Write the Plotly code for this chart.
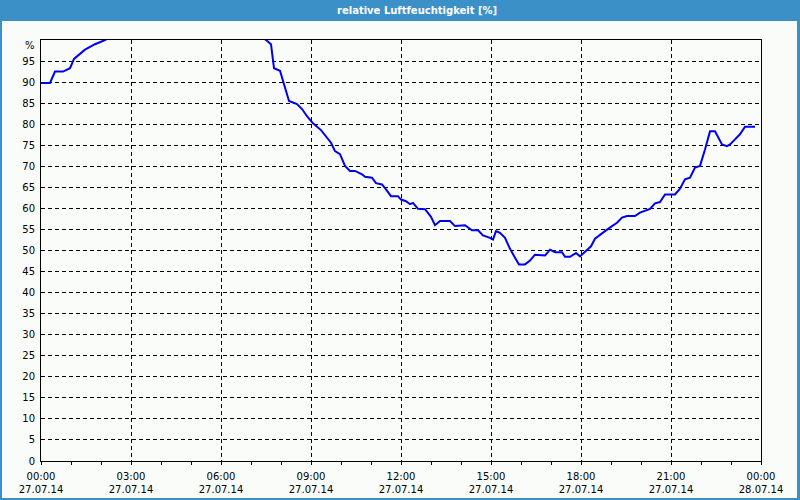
import plotly.graph_objects as go

title_text = "relative Luftfeuchtigkeit [%]"
day = "2014-07-27"

times = ["00:00", "00:18", "00:28", "00:44", "00:58", "01:06", "01:28", "01:48", "02:08",
         "02:30", "07:10",
         "07:30", "07:40", "07:44", "07:46", "07:58", "08:16", "08:32", "08:42", "08:52",
         "09:04", "09:20", "09:40", "09:48", "09:58", "10:08", "10:18", "10:28", "10:42",
         "10:48", "11:02", "11:10", "11:22", "11:30", "11:40", "11:54", "12:00", "12:10",
         "12:18", "12:24", "12:34", "12:48", "13:00", "13:08", "13:18", "13:38", "13:48",
         "14:08", "14:22", "14:34", "14:44", "14:58", "15:04", "15:10", "15:18", "15:28",
         "15:38", "15:48", "15:56", "16:08", "16:18", "16:28", "16:48", "16:58", "17:08",
         "17:22", "17:28", "17:38", "17:50", "17:58", "18:14", "18:20", "18:28", "18:38",
         "18:48", "19:02", "19:12", "19:22", "19:32", "19:48", "19:58", "20:18", "20:28",
         "20:38", "20:48", "21:08", "21:18", "21:28", "21:38", "21:48", "21:58", "22:08",
         "22:18", "22:28", "22:42", "22:52", "22:58", "23:08", "23:18", "23:28", "23:48"]

humidity = [89.8, 89.8, 92.5, 92.5, 93.3, 95.5, 97.7, 99.0, 100.0,
            101.5, 101.5,
            100.0, 99.0, 95.5, 93.3, 92.7, 85.5, 84.8, 83.6, 81.9,
            80.2, 78.6, 75.6, 73.6, 72.9, 70.1, 68.9, 68.9, 68.1,
            67.5, 67.3, 66.0, 65.7, 64.5, 62.9, 62.9, 62.1, 61.7,
            61.0, 61.3, 59.9, 59.8, 58.0, 56.0, 57.0, 57.0, 55.8,
            56.0, 54.8, 54.8, 53.6, 53.0, 52.6, 54.6, 54.2, 53.0,
            50.4, 48.3, 46.7, 46.7, 47.6, 49.0, 48.8, 50.2, 49.6,
            49.6, 48.5, 48.5, 49.4, 48.6, 50.2, 51.0, 52.8, 53.8,
            54.6, 55.8, 56.6, 57.8, 58.2, 58.2, 59.0, 59.9, 61.2,
            61.5, 63.3, 63.3, 64.7, 66.9, 67.3, 69.7, 70.1, 74.0,
            78.3, 78.3, 75.2, 74.8, 75.2, 76.4, 77.6, 79.4, 79.4]

y_ticks = list(range(0, 100, 5))
y_unit = "%"

x = [f"{day} {t}" for t in times]

BLUE = "#3C90C8"
BG = "#FAFCFA"
FONT = "DejaVu Sans"

fig = go.Figure()
fig.add_trace(go.Scatter(x=x, y=humidity, mode="lines",
                         line=dict(color="#0000F0", width=2),
                         hoverinfo="skip", showlegend=False))

W, H = 800, 500
L, R, T, B = 41, 39, 40, 39
pw, ph = W - L - R, H - T - B

def px_x(p):
    return (p - L) / pw

def px_y(p):
    return (H - B - p) / ph

fig.add_shape(type="rect", xref="paper", yref="paper",
              x0=px_x(2), x1=px_x(797), y0=px_y(498), y1=px_y(21),
              fillcolor=BG, line=dict(width=0), layer="below")

fig.add_annotation(text=f"<b>{title_text}</b>", xref="paper", yref="paper",
                   x=px_x(416.5), y=px_y(10.5), xanchor="center", yanchor="middle",
                   showarrow=False, font=dict(family=FONT, size=10, color="white"))

fig.add_annotation(text=y_unit, xref="paper", yref="paper",
                   x=px_x(36.5), y=px_y(45.5), xanchor="right", yanchor="middle",
                   showarrow=False, font=dict(family=FONT, size=10, color="black"))

fig.update_layout(
    width=W, height=H, autosize=False,
    margin=dict(l=L, r=R, t=T, b=B, pad=0),
    paper_bgcolor=BLUE, plot_bgcolor=BG,
    font=dict(family=FONT, size=10, color="black"),
    xaxis=dict(type="date",
               range=[f"{day} 00:00", "2014-07-28 00:00"],
               tickmode="linear", tick0=f"{day} 00:00", dtick=3 * 3600000,
               tickformat="%H:%M<br>%d.%m.%y",
               showgrid=True, gridcolor="black", gridwidth=1, griddash="4px,3px",
               showline=True, linecolor="black", linewidth=1, mirror=True,
               ticks="outside", ticklen=3, tickcolor="black", tickwidth=1,
               minor=dict(dtick=3600000, ticks="outside", ticklen=3,
                          tickcolor="black", showgrid=False),
               zeroline=False, fixedrange=True, automargin=False,
               ticklabelstandoff=3,
               tickfont=dict(family=FONT, size=10, color="black")),
    yaxis=dict(range=[0, 100], tickmode="array", tickvals=y_ticks,
               ticktext=[str(v) for v in y_ticks],
               showgrid=True, gridcolor="black", gridwidth=1, griddash="4px,3px",
               showline=True, linecolor="black", linewidth=1, mirror=True,
               ticks="", zeroline=False, fixedrange=True, automargin=False,
               ticklabelstandoff=3,
               tickfont=dict(family=FONT, size=10, color="black")),
)

fig.write_html("out.html")
